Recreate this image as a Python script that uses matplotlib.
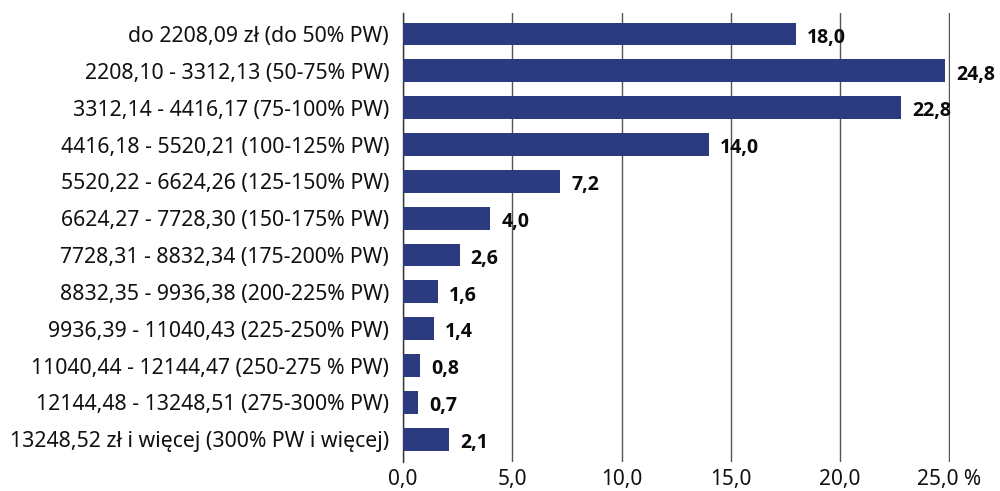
import matplotlib
matplotlib.use("Agg")
import matplotlib.pyplot as plt

# data
categories = [
    "do 2208,09 zł (do 50% PW)",
    "2208,10 - 3312,13 (50-75% PW)",
    "3312,14 - 4416,17 (75-100% PW)",
    "4416,18 - 5520,21 (100-125% PW)",
    "5520,22 - 6624,26 (125-150% PW)",
    "6624,27 - 7728,30 (150-175% PW)",
    "7728,31 - 8832,34 (175-200% PW)",
    "8832,35 - 9936,38 (200-225% PW)",
    "9936,39 - 11040,43 (225-250% PW)",
    "11040,44 - 12144,47 (250-275 % PW)",
    "12144,48 - 13248,51 (275-300% PW)",
    "13248,52 zł i więcej (300% PW i więcej)",
]
values = [18.0, 24.8, 22.8, 14.0, 7.2, 4.0, 2.6, 1.6, 1.4, 0.8, 0.7, 2.1]
xticks = [0, 5, 10, 15, 20, 25]
xtick_labels = ["0,0", "5,0", "10,0", "15,0", "20,0", "25,0 %"]

bar_color = "#2c3a80"
plt.rcParams['font.family'] = ['Noto Sans', 'DejaVu Sans']

fig = plt.figure(figsize=(10, 4.91), dpi=100)
ax = fig.add_axes([0.403, 0.059, 0.547, 0.9145])

pos = list(range(len(categories)))
ax.barh(pos, values, height=0.62, color=bar_color, zorder=3)

for p, v in zip(pos, values):
    ax.text(v + 0.5, p + 0.1, "{:.1f}".format(v).replace(".", ","),
            va="center", ha="left", fontsize=14, fontweight="bold",
            family=["Open Sans", "DejaVu Sans"], color="#0a0a0a")

ax.set_xlim(0, 25.03)
ax.set_ylim(11.62, -0.57)
ax.set_yticks(pos)
ax.set_yticklabels(categories, fontsize=15.3, color="#111111")
ax.set_xticks(xticks)
ax.set_xticklabels(xtick_labels, fontsize=15, color="#111111")
ax.tick_params(axis="both", length=0)
ax.tick_params(axis="y", pad=10)
ax.tick_params(axis="x", pad=5)

ax.grid(axis="x", color="#555555", linewidth=1.0, zorder=0)
for s in ["top", "right", "bottom"]:
    ax.spines[s].set_visible(False)
ax.spines["left"].set_color("#333333")
ax.spines["left"].set_linewidth(1.0)

fig.savefig("out.png", dpi=100)
